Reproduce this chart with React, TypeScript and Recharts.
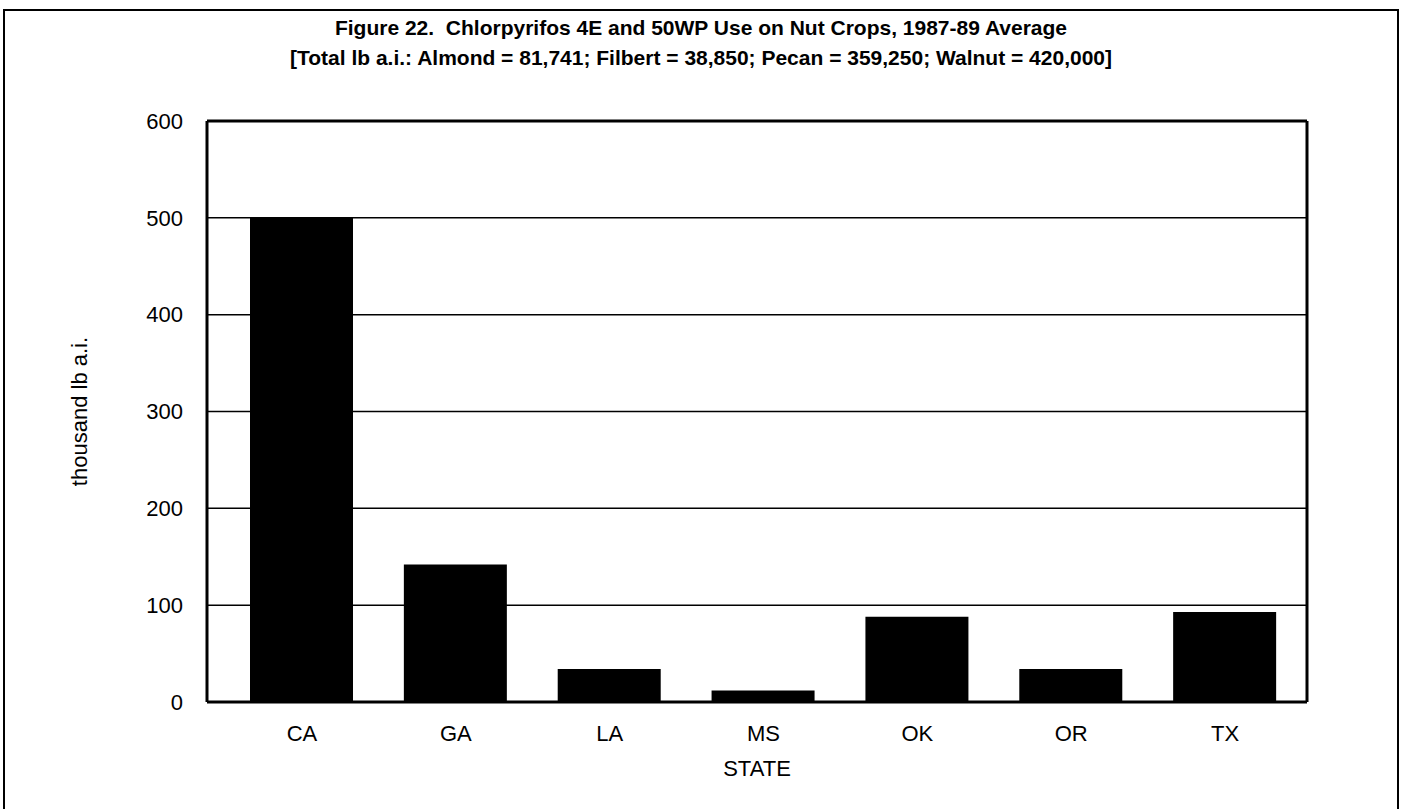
import React from 'react';
import { BarChart, Bar, XAxis, YAxis, CartesianGrid } from 'recharts';

const states = ['CA', 'GA', 'LA', 'MS', 'OK', 'OR', 'TX'];
const usage = [500, 142, 34, 12, 88, 34, 93];
const yTicks = [0, 100, 200, 300, 400, 500, 600];

const TITLE_1 = 'Figure 22.  Chlorpyrifos 4E and 50WP Use on Nut Crops, 1987-89 Average';
const TITLE_2 = '[Total lb a.i.: Almond = 81,741; Filbert = 38,850; Pecan = 359,250; Walnut = 420,000]';

const data = states.map((s, i) => ({ state: s, value: usage[i] }));

const FONT = '"Liberation Sans", Arial, sans-serif';
const frameLine = { stroke: '#000', strokeWidth: 3 };

const App: React.FC = () => {
  return (
    <div style={{ position: 'absolute', left: 0, top: 0, width: 1402, height: 809, background: '#fff', fontFamily: FONT }}>
      <div
        style={{
          position: 'absolute',
          left: 3,
          top: 9,
          width: 1396,
          height: 820,
          border: '2px solid #000',
          boxSizing: 'border-box',
        }}
      />
      <div
        style={{
          position: 'absolute',
          left: 0,
          top: 13,
          width: 1402,
          textAlign: 'center',
          fontWeight: 'bold',
          fontSize: 21,
          lineHeight: '30px',
          color: '#000',
          whiteSpace: 'pre',
        }}
      >
        <div>{TITLE_1}</div>
        <div>{TITLE_2}</div>
      </div>
      <div style={{ position: 'absolute', left: 0, top: 0 }}>
        <BarChart
          width={1402}
          height={809}
          data={data}
          margin={{ top: 121, right: 95, bottom: 17, left: 0 }}
          barSize={103}
        >
          <CartesianGrid vertical={false} stroke="#000" strokeWidth={1.5} />
          {/* thick top and right edges of the plot box */}
          <CartesianGrid
            stroke="#000"
            strokeWidth={3}
            horizontalCoordinatesGenerator={({ offset }: any) => [offset.top]}
            verticalCoordinatesGenerator={({ offset }: any) => [offset.left + offset.width]}
          />
          <XAxis
            dataKey="state"
            height={90}
            tickSize={0}
            tickMargin={23}
            axisLine={frameLine}
            tick={{ fill: '#000', fontSize: 22, fontFamily: FONT }}
            padding={{ left: 18, right: 5 }}
            label={{ value: 'STATE', position: 'insideBottom', offset: 16, fill: '#000', fontSize: 22, fontFamily: FONT }}
          />
          <YAxis
            width={207}
            domain={[0, 600]}
            ticks={yTicks}
            tickSize={0}
            tickMargin={24}
            axisLine={frameLine}
            tick={{ fill: '#000', fontSize: 22, fontFamily: FONT }}
            label={{
              value: 'thousand lb a.i.',
              angle: -90,
              position: 'insideLeft',
              offset: 79,
              fill: '#000',
              fontSize: 22,
              fontFamily: FONT,
              style: { textAnchor: 'middle' },
            }}
          />
          <Bar dataKey="value" fill="#000" isAnimationActive={false} />
        </BarChart>
      </div>
    </div>
  );
};

export default App;
